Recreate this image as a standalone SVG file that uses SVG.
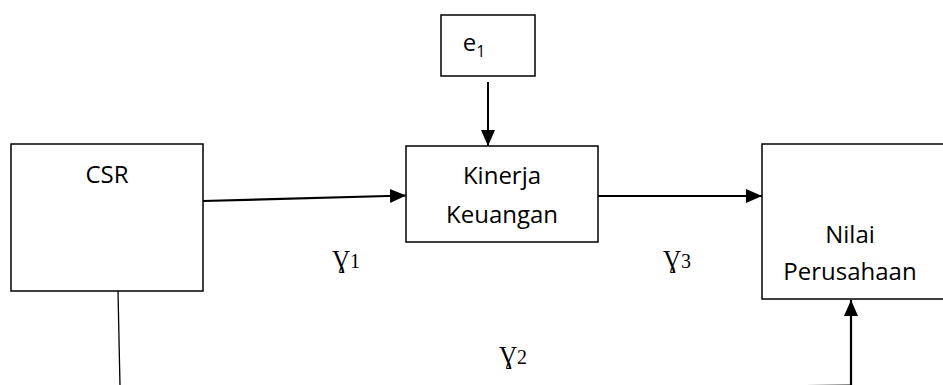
<svg xmlns="http://www.w3.org/2000/svg" width="943" height="385" viewBox="0 0 943 385">
<style>
.box{fill:#fff;stroke:#000;stroke-width:1.5}
.lbl{font-family:"Open Sans","Liberation Sans",sans-serif;font-size:24px;fill:#000;text-anchor:middle}
.g{font-family:"Liberation Serif","DejaVu Serif",serif;font-size:20px;fill:#000}
.gs{font-size:25px}
.c{stroke:#000;fill:none}
</style>
<defs>
<marker id="ah" viewBox="0 0 16 14" refX="16" refY="7" markerWidth="16" markerHeight="14" markerUnits="userSpaceOnUse" orient="auto">
<path d="M0,0 L16,7 L0,14 z" fill="#000"/>
</marker>
</defs>
<rect width="943" height="385" fill="#fff"/>
<g id="connectors">
<line class="c" x1="203" y1="201" x2="406" y2="195.5" stroke-width="2.2" marker-end="url(#ah)"/>
<line class="c" x1="598" y1="196" x2="762" y2="196" stroke-width="2" marker-end="url(#ah)"/>
<line class="c" x1="488" y1="82" x2="488" y2="146" stroke-width="2" marker-end="url(#ah)"/>
<line class="c" x1="118" y1="291" x2="120" y2="386" stroke-width="1.3"/>
<line class="c" x1="120" y1="392" x2="851" y2="385.6" stroke-width="2"/>
<line class="c" x1="851" y1="385" x2="851" y2="300" stroke-width="2.2" marker-end="url(#ah)"/>
</g>
<g id="node-csr">
<rect class="box" x="11" y="144" width="192" height="147"/>
<text class="lbl" x="107" y="183">CSR</text>
</g>
<g id="node-e1">
<rect class="box" x="441" y="15" width="94" height="61"/>
<text class="lbl" x="474" y="51">e<tspan font-size="16" dy="6">1</tspan></text>
</g>
<g id="node-kinerja">
<rect class="box" x="406" y="146" width="192" height="96"/>
<text class="lbl" x="502" y="184">Kinerja</text>
<text class="lbl" x="502" y="223">Keuangan</text>
</g>
<g id="node-nilai">
<rect class="box" x="762" y="144" width="190" height="155"/>
<text class="lbl" x="850" y="243">Nilai</text>
<text class="lbl" x="850" y="280">Perusahaan</text>
</g>
<g id="labels">
<text class="g" x="332" y="268"><tspan class="gs">Ɣ</tspan>1</text>
<text class="g" x="663" y="268"><tspan class="gs">Ɣ</tspan>3</text>
<text class="g" x="499" y="364"><tspan class="gs">Ɣ</tspan>2</text>
</g>
</svg>
